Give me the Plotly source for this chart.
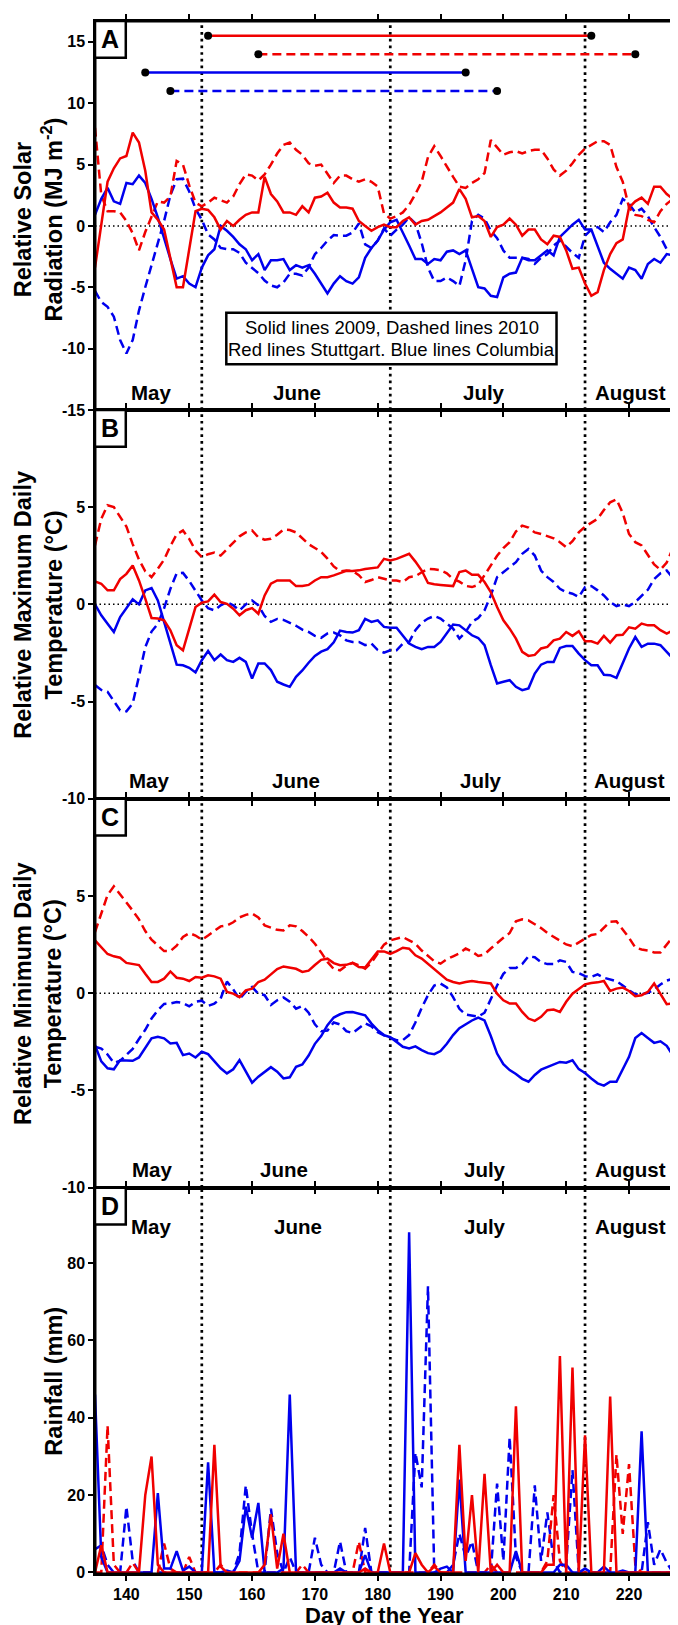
import plotly.graph_objects as go

# ---------------- DATA ----------------
days = list(range(135, 228))  # day of the year, 15 May .. 15 Aug

# Panel A: relative solar radiation (MJ m-2)
solar_stuttgart_2009 = [
    -3.4, 0.1, 3.6, 4.7, 5.5, 5.7, 7.6, 6.8, 4.5, 1.1,
    0.5, -0.3, -2.6, -5.0, -5.0, -1.9, 1.2, 1.4, 1.3, 0.7,
    -0.3, 0.4, 0.0, 0.5, 0.9, 1.1, 1.1, 4.0, 2.6, 2.0,
    1.1, 1.1, 0.9, 1.6, 1.1, 2.3, 2.4, 2.7, 1.9, 1.5,
    1.5, 1.4, 0.4, 0.0, -0.4, -0.1, 0.1, -0.1, -0.1, 0.4,
    0.7, 0.1, 0.4, 0.5, 0.8, 1.1, 1.5, 1.9, 3.0, 2.2,
    0.7, 0.8, 0.4, -0.9, -0.1, 0.1, 0.6, 0.1, -0.8, -0.3,
    -0.3, -1.1, -1.5, -0.8, -0.9, -2.0, -3.5, -3.4, -4.7, -5.7,
    -5.4, -3.6, -2.3, -1.4, -1.1, 1.5, 2.0, 2.3, 1.8, 3.2,
    3.2, 2.6, 2.2]
solar_stuttgart_2010 = [
    8.0, 2.5, 1.2, 1.2, 1.1, 0.4, -0.6, -2.0, -0.5, 0.8,
    2.0, 1.9, 2.4, 5.3, 5.0, 3.3, 1.9, 1.6, 1.9, 2.3,
    2.1, 1.9, 2.4, 3.4, 4.2, 4.1, 3.7, 4.2, 5.0, 5.9,
    6.6, 6.8, 6.2, 5.8, 5.1, 4.9, 5.0, 4.3, 3.5, 4.1,
    4.1, 3.8, 3.6, 3.8, 3.6, 3.2, 1.0, 0.6, 0.8, 1.1,
    1.7, 2.6, 3.6, 5.6, 6.5, 5.7, 4.8, 4.0, 3.2, 3.1,
    3.5, 3.8, 4.3, 7.0, 6.4, 5.8, 6.0, 6.1, 5.9, 6.1,
    6.2, 6.2, 5.5, 4.6, 4.1, 4.5, 5.1, 5.8, 6.3, 6.6,
    6.9, 6.9, 6.6, 4.8, 3.6, 1.5, 0.9, 0.8, 0.5, 0.3,
    1.2, 1.8, 2.2]
solar_columbia_2009 = [
    0.9, 2.2, 3.1, 2.0, 1.8, 3.5, 3.4, 4.1, 3.5, 2.2,
    0.7, -1.1, -2.7, -4.3, -4.1, -4.7, -5.0, -3.4, -2.4, -1.9,
    0.0, -0.4, -0.9, -1.5, -1.9, -2.8, -2.3, -3.6, -2.8, -2.8,
    -2.7, -3.6, -3.2, -3.4, -3.2, -3.9, -4.7, -5.5, -4.7, -4.1,
    -4.5, -4.7, -4.2, -2.6, -1.8, -1.2, -0.3, 0.3, 0.5, -0.5,
    -1.6, -2.7, -2.7, -3.1, -2.7, -2.8, -2.1, -2.0, -2.3, -2.0,
    -3.6, -5.0, -5.1, -5.7, -5.8, -4.2, -3.9, -3.8, -2.6, -2.8,
    -2.8, -2.4, -2.0, -2.4, -0.9, -0.4, 0.1, 0.5, -0.3, -0.3,
    -1.6, -3.0, -3.5, -3.9, -4.3, -3.4, -3.6, -4.3, -3.1, -2.7,
    -3.0, -2.3, -2.4]
solar_columbia_2010 = [
    -5.3, -6.2, -6.6, -7.4, -9.3, -10.4, -9.3, -6.9, -5.0, -3.2,
    -1.4, 0.4, 2.5, 3.8, 3.85, 2.8, 1.4, 0.5, -0.7, -1.1,
    -1.8, -1.9, -1.9, -2.2, -3.0, -3.4, -3.85, -4.45, -4.85, -5.0,
    -4.6, -3.9, -3.9, -4.05, -3.4, -2.3, -1.8, -1.2, -0.75, -0.8,
    -0.8, -0.55, 0.2, -1.5, -1.8, -1.2, -0.2, -0.8, -0.3, 0.1,
    0.7, 0.2, -1.4, -3.4, -4.5, -4.5, -4.2, -4.5, -4.9, -2.8,
    0.4, 0.9, 0.6, -0.4, -1.0, -2.0, -2.6, -2.6, -2.6, -2.7,
    -3.1, -2.6, -2.3, -1.6, -1.2, -1.7, -2.2, -2.6, -0.8, -0.3,
    -0.1, -0.5, 0.3, 0.9, 2.2, 1.8, 1.1, 1.4, 0.8, -0.1,
    -0.9, -1.9, -2.2]

# Panel B: relative maximum daily temperature (deg C)
tmax_stuttgart_2009 = [
    1.18, 1.06, 0.72, 0.72, 1.3, 1.57, 2.0, 1.23, 0.3, -0.7,
    -0.73, -0.82, -1.33, -2.1, -2.36, -1.25, -0.14, 0.09, 0.15, 0.5,
    0.12, 0.03, -0.22, -0.56, -0.3, -0.19, -0.48, 0.46, 1.06, 1.23,
    1.23, 1.23, 0.94, 0.94, 1.0, 1.23, 1.4, 1.4, 1.49, 1.6,
    1.72, 1.72, 1.75, 1.82, 1.86, 1.9, 2.34, 2.26, 2.34, 2.48,
    2.6, 2.2, 1.74, 1.1, 1.03, 1.0, 0.97, 0.94, 1.66, 1.74,
    1.52, 1.52, 1.15, 0.63, -0.14, -0.82, -1.25, -1.76, -2.44, -2.65,
    -2.6, -2.27, -2.19, -1.85, -1.76, -1.42, -1.62, -1.38, -1.9, -1.9,
    -2.02, -1.62, -1.97, -1.59, -1.56, -1.18, -1.25, -0.99, -1.08, -1.08,
    -1.33, -1.5, -1.33]
tmax_stuttgart_2010 = [
    3.03, 4.4, 5.1, 5.0, 4.5, 4.0, 3.1, 2.3, 1.7, 1.4,
    1.83, 2.3, 3.0, 3.6, 3.8, 3.37, 2.77, 2.43, 2.58, 2.66,
    2.51, 2.85, 3.2, 3.5, 3.7, 3.8, 3.45, 3.33, 3.37, 3.58,
    3.85, 3.82, 3.7, 3.4, 3.1, 2.9, 2.7, 2.35, 1.95, 1.7,
    1.74, 1.72, 1.5, 1.15, 1.25, 1.4, 1.3, 1.23, 1.23, 1.15,
    1.4, 1.45, 1.65, 1.82, 1.8, 1.75, 1.6, 1.3, 1.17, 0.95,
    0.89, 1.0, 1.5, 2.0, 2.5, 2.9, 3.2, 3.75, 4.05, 3.95,
    3.7, 3.62, 3.5, 3.4, 3.2, 2.94, 3.25, 3.7, 4.0, 4.2,
    4.4, 4.85, 5.25, 5.4, 4.7, 3.62, 3.2, 3.03, 2.55, 2.05,
    1.78, 2.15, 2.9]
tmax_columbia_2009 = [
    0.0, -0.56, -1.0, -1.42, -0.65, -0.22, 0.26, 0.0, 0.72, 0.84,
    0.2, -0.9, -2.0, -3.1, -3.13, -3.26, -3.5, -2.87, -2.4, -2.87,
    -2.58, -2.87, -2.96, -2.75, -2.96, -3.81, -3.04, -3.04, -3.38, -3.98,
    -4.12, -4.24, -3.73, -3.4, -3.0, -2.65, -2.43, -2.3, -1.95, -1.35,
    -1.42, -1.45, -1.33, -0.75, -0.9, -0.82, -1.16, -1.2, -1.2, -1.59,
    -2.02, -2.19, -2.31, -2.19, -2.19, -1.93, -1.5, -1.04, -1.08, -1.33,
    -1.59, -1.73, -2.1, -3.13, -4.07, -3.98, -3.9, -4.24, -4.41, -4.32,
    -3.56, -3.1, -2.96, -2.96, -2.24, -2.14, -2.14, -2.53, -2.87, -3.13,
    -3.13, -3.62, -3.64, -3.78, -3.04, -2.27, -1.68, -2.19, -2.02, -2.02,
    -2.1, -2.44, -2.79]
tmax_columbia_2010 = [
    -4.15, -4.4, -4.5, -4.95, -5.45, -5.5, -5.1, -3.7, -2.2, -1.4,
    -1.0, -0.2, 0.8, 1.6, 1.62, 1.2, 0.7, 0.2, -0.2, -0.31,
    -0.05, 0.12, -0.05, -0.31, 0.0, 0.2, -0.05, -0.6, -0.9, -0.75,
    -0.8, -0.95, -1.1, -1.3, -1.42, -1.62, -1.72, -1.5, -1.45, -1.59,
    -1.85, -1.93, -1.93, -2.1, -2.02, -2.35, -2.48, -2.36, -2.36, -2.02,
    -1.93, -1.33, -0.94, -0.73, -0.6, -0.73, -0.99, -1.25, -1.76, -1.42,
    -0.9, -0.7, -0.31, 0.46, 1.4, 1.66, 1.91, 2.17, 2.6, 2.85,
    2.51, 1.74, 1.4, 1.15, 0.8, 0.63, 0.55, 0.38, 0.89, 0.94,
    0.72, 0.46, 0.12, -0.09, 0.0, -0.09, 0.12, 0.46, 0.75, 1.3,
    1.6, 1.74, 1.35]

# Panel C: relative minimum daily temperature (deg C)
tmin_stuttgart_2009 = [
    2.72, 2.36, 2.02, 1.9, 1.83, 1.56, 1.52, 1.45, 1.0, 0.58,
    0.58, 0.75, 1.12, 0.8, 0.75, 0.63, 0.84, 0.8, 0.92, 0.87,
    0.75, 0.07, -0.02, -0.2, 0.15, 0.24, 0.58, 0.7, 0.97, 1.24,
    1.38, 1.32, 1.26, 1.1, 1.16, 1.45, 1.72, 1.78, 1.55, 1.44,
    1.46, 1.56, 1.35, 1.32, 1.75, 2.15, 2.15, 2.03, 2.17, 2.34,
    2.29, 1.95, 1.78, 1.52, 1.26, 1.0, 0.7, 0.58, 0.5, 0.58,
    0.63, 0.58, 0.53, 0.5, -0.02, -0.36, -0.53, -0.53, -0.96, -1.3,
    -1.42, -1.21, -0.87, -0.84, -0.96, -0.44, -0.02, 0.24, 0.46, 0.53,
    0.56, 0.63, 0.12, 0.24, 0.29, 0.12, -0.15, -0.1, 0.07, 0.5,
    -0.02, -0.56, -0.53]
tmin_stuttgart_2010 = [
    3.15, 4.1, 5.05, 5.5, 5.1, 4.65, 4.25, 3.8, 3.2, 2.75,
    2.46, 2.17, 2.17, 2.45, 2.89, 3.09, 2.97, 2.75, 2.97, 3.2,
    3.44, 3.49, 3.65, 3.9, 4.03, 4.1, 3.9, 3.49, 3.37, 3.26,
    3.23, 3.49, 3.44, 3.2, 2.9, 2.55, 2.1, 1.61, 1.25, 1.18,
    1.42, 1.56, 1.44, 1.26, 1.58, 2.05, 2.5, 2.72, 2.8, 2.89,
    2.72, 2.55, 2.2, 1.9, 1.65, 1.52, 1.75, 1.9, 2.05, 2.3,
    2.15, 1.92, 2.0, 2.3, 2.6, 2.85, 3.1, 3.7, 3.8, 3.75,
    3.55, 3.35, 3.1, 2.9, 2.68, 2.51, 2.42, 2.62, 2.82, 3.0,
    3.05, 3.35, 3.68, 3.7, 3.3, 2.85, 2.35, 2.25, 2.2, 2.1,
    2.1, 2.5, 2.9]
tmin_columbia_2009 = [
    -2.67, -3.5, -3.86, -3.91, -3.44, -3.47, -3.47, -3.3, -2.84, -2.32,
    -2.24, -2.32, -2.58, -2.55, -3.18, -3.1, -3.3, -3.01, -3.13, -3.52,
    -3.86, -4.12, -3.91, -3.44, -4.03, -4.6, -4.29, -4.03, -3.8, -4.03,
    -4.38, -4.32, -3.78, -3.66, -3.2, -2.6, -2.2, -1.64, -1.25, -1.08,
    -0.97, -0.96, -1.04, -1.13, -1.56, -1.9, -2.15, -2.26, -2.5, -2.75,
    -2.84, -2.73, -2.92, -3.08, -3.13, -2.97, -2.6, -2.15, -1.8, -1.6,
    -1.4, -1.25, -1.4, -2.2, -3.1, -3.65, -3.95, -4.15, -4.4, -4.55,
    -4.2, -3.93, -3.81, -3.66, -3.53, -3.57, -3.45, -3.9, -4.1, -4.38,
    -4.63, -4.75, -4.55, -4.55, -3.95, -3.27, -2.3, -2.05, -2.3, -2.55,
    -2.47, -2.7, -3.2]
tmin_columbia_2010 = [
    -2.75, -2.84, -3.15, -3.58, -3.47, -3.15, -2.86, -2.35, -1.88, -1.3,
    -0.87, -0.55, -0.53, -0.45, -0.5, -0.67, -0.44, -0.38, -0.65, -0.53,
    -0.27, 0.6, 0.2, -0.3, 0.07, 0.32, -0.02, -0.1, -0.6, -0.36,
    -0.22, -0.44, -0.79, -0.65, -1.0, -1.6, -1.95, -1.92, -1.5, -1.6,
    -1.95, -2.05, -1.8, -1.55, -1.7, -2.0, -2.17, -2.3, -2.41, -2.41,
    -2.15, -1.5, -0.75, -0.1, 0.4, 0.5, 0.3, -0.2, -0.8, -1.1,
    -1.15, -1.2, -1.0, -0.3, 0.4, 1.0, 1.3, 1.3, 1.5, 1.9,
    1.85, 1.6, 1.5, 1.5, 1.69, 1.61, 1.1, 1.04, 0.88, 0.84,
    0.97, 0.8, 0.7, 0.62, 0.4, 0.15, -0.05, -0.05, 0.02, 0.2,
    0.45, 0.65, 0.75]

# Panel D: rainfall (mm)
rain_stuttgart_2009 = [
    0, 7, 0, 0, 0, 0, 0, 0, 20, 30,
    2, 0, 0, 0, 0, 0, 0, 0, 0, 33,
    1.5, 0, 0, 0, 0, 0, 0, 2, 15, 1,
    10, 0, 0, 0, 0, 0, 0, 0, 0, 0,
    0, 0, 0, 1, 0, 0, 7.5, 0, 0, 0,
    0, 5, 2, 0, 1.5, 0, 0, 0, 33, 3,
    20, 0, 25.5, 0, 2, 0, 0, 43, 0, 0,
    0, 0, 2, 2, 56, 0, 53, 0, 35.5, 0,
    0, 0, 45.5, 0, 0, 0, 0, 0, 0, 0,
    0, 0, 0]
rain_stuttgart_2010 = [
    0, 0, 38, 2, 0, 0, 2.5, 0, 0, 0,
    0, 7.5, 1, 0, 0, 4, 0, 0, 0, 0,
    2, 0, 0, 0, 0, 0, 0, 0, 0, 0,
    0, 0, 0, 2, 0, 0, 0, 0, 0, 0,
    0, 0, 8, 0, 0, 0, 0, 0, 0, 0,
    0, 0, 0, 0, 2, 0, 0, 0, 0, 0,
    0, 0, 0, 2, 0, 0, 0, 0, 0, 0,
    0, 0, 3, 20, 3, 0, 0, 0, 0, 0,
    0, 0, 0, 30.5, 10, 28, 2, 0, 0, 0,
    0, 0, 0]
rain_columbia_2009 = [
    46, 4, 0, 0, 0, 0, 0, 0, 0, 0,
    20.5, 1, 1, 5.5, 0.5, 1.5, 0, 0, 28.5, 0,
    0, 0.5, 0, 3, 17, 9, 18, 0, 0, 0,
    1, 46, 0, 0, 0, 0, 0, 0, 0, 1,
    0, 0, 0, 4.5, 0, 0, 0, 0, 0, 0,
    88, 0, 0, 0, 0, 1, 1.5, 0, 24, 0,
    0, 0, 0, 0, 0, 0, 0, 5.5, 0, 0,
    0, 0, 0, 0, 2, 2, 0, 0, 1, 0,
    0, 1.5, 0, 0, 0.5, 0, 0, 36.5, 0, 0,
    0, 0, 0]
rain_columbia_2010 = [
    6, 7, 2, 0, 0, 17, 3, 0, 0, 0,
    0, 0, 0, 0, 0, 0, 0, 0, 0, 0,
    0, 0, 0, 5, 22.5, 10, 0, 0, 16.5, 5,
    0, 4, 0, 0, 0, 9, 2, 0, 0, 8,
    0, 0, 0, 11.5, 0, 0, 0, 0, 0, 0,
    0, 31, 22, 74, 0, 0, 0, 2, 10, 4,
    8, 0, 0, 0, 23, 3, 35, 4, 0, 0,
    22.5, 3, 15.5, 3, 0, 2, 26.5, 0, 0, 0,
    0, 0, 0, 0, 0, 0, 0, 0, 13, 2,
    6, 2.5, 0]

# Growing-period bars at the top of panel A
period_start = [153, 161, 143, 147]
period_end = [214, 221, 194, 199]
period_level = [15.5, 14.0, 12.5, 11.0]

month_names = ["May", "June", "July", "August"]
month_boundaries = [152, 182, 213]
x_ticks = [140, 150, 160, 170, 180, 190, 200, 210, 220]
y_ticks_a = [-15, -10, -5, 0, 5, 10, 15]
y_ticks_bc = [-10, -5, 0, 5]
y_ticks_d = [0, 20, 40, 60, 80]

for s in [solar_stuttgart_2009, solar_stuttgart_2010, solar_columbia_2009, solar_columbia_2010,
          tmax_stuttgart_2009, tmax_stuttgart_2010, tmax_columbia_2009, tmax_columbia_2010,
          tmin_stuttgart_2009, tmin_stuttgart_2010, tmin_columbia_2009, tmin_columbia_2010,
          rain_stuttgart_2009, rain_stuttgart_2010, rain_columbia_2009, rain_columbia_2010]:
    assert len(s) == len(days), len(s)

# ---------------- STYLE ----------------
RED = "rgb(240,0,0)"
BLUE = "rgb(0,0,238)"
DASH = "9px,5px"
FONT = "Liberation Sans, Arial, Helvetica, sans-serif"
LW = 2.5

fig = go.Figure()

panels = [
    [solar_columbia_2010, solar_stuttgart_2010, solar_columbia_2009, solar_stuttgart_2009],
    [tmax_columbia_2010, tmax_stuttgart_2010, tmax_columbia_2009, tmax_stuttgart_2009],
    [tmin_columbia_2010, tmin_stuttgart_2010, tmin_columbia_2009, tmin_stuttgart_2009],
    [rain_columbia_2010, rain_stuttgart_2010, rain_columbia_2009, rain_stuttgart_2009],
]
styles = [(BLUE, DASH), (RED, DASH), (BLUE, "solid"), (RED, "solid")]

def sfx(i):
    return "" if i == 0 else str(i + 1)

for i, series in enumerate(panels):
    for vals, (col, dash) in zip(series, styles):
        fig.add_trace(go.Scatter(
            x=days, y=vals, mode="lines",
            line=dict(color=col, width=LW, dash=dash),
            xaxis="x" + sfx(i), yaxis="y" + sfx(i),
            showlegend=False, hoverinfo="skip"))

period_styles = [(RED, "solid"), (RED, DASH), (BLUE, "solid"), (BLUE, DASH)]
for s, e, lev, (col, dash) in zip(period_start, period_end, period_level, period_styles):
    fig.add_trace(go.Scatter(
        x=[s, e], y=[lev, lev], mode="lines+markers",
        line=dict(color=col, width=LW, dash=dash),
        marker=dict(color="black", size=8),
        xaxis="x", yaxis="y", showlegend=False, hoverinfo="skip"))

# ---------------- LAYOUT ----------------
W, H = 678, 1625
ML, MR, MT, MB = 87, 9, 6, 59
PW = W - ML - MR
PH = H - MT - MB

y_domains = [[0.74955, 1.0], [0.49917, 0.74955], [0.24872, 0.49917], [0.0, 0.24872]]
y_ranges = [[-15, 16.7], [-10, 10], [-10, 10], [-0.4, 99.5]]
y_ticks = [y_ticks_a, y_ticks_bc, y_ticks_bc, y_ticks_d]

tickfont = dict(family=FONT, size=16, color="black", weight="bold")
axis_common = dict(showline=True, linewidth=1.5, linecolor="black", mirror="ticks",
                   ticks="outside", ticklen=5, tickwidth=2, tickcolor="black",
                   showgrid=False, zeroline=False, tickfont=tickfont)

layout_axes = {}
for i in range(4):
    layout_axes["xaxis" + sfx(i)] = dict(axis_common, domain=[0, 1], range=[135, 227],
                                        tickvals=x_ticks, ticktext=[str(t) for t in x_ticks],
                                        anchor="y" + sfx(i), showticklabels=(i == 3))
    layout_axes["yaxis" + sfx(i)] = dict(axis_common, domain=y_domains[i], range=y_ranges[i],
                                        tickvals=y_ticks[i], ticktext=[str(t) for t in y_ticks[i]],
                                        anchor="x" + sfx(i))

shapes = []
annotations = []

# outer frame (axis lines are drawn outside; this thickens outer edges to match panel joins)
shapes.append(dict(type="rect", xref="paper", yref="paper", x0=0, x1=1, y0=0, y1=1,
                   line=dict(color="black", width=3), layer="above"))

for i in range(4):
    xs, ys = "x" + sfx(i), "y" + sfx(i)
    for d in month_boundaries:
        shapes.append(dict(type="line", xref=xs, yref=ys + " domain", x0=d, x1=d, y0=0, y1=1,
                           line=dict(color="black", width=2.7, dash="2.7px,4px"), layer="below"))
    if i < 3:
        shapes.append(dict(type="line", xref=xs + " domain", yref=ys, x0=0, x1=1, y0=0, y1=0,
                           line=dict(color="black", width=1.5, dash="1.5px,3px"), layer="below"))
    # panel letter box
    dom_h = (y_domains[i][1] - y_domains[i][0]) * PH
    bh = 37 / dom_h
    bw = 31 / PW
    shapes.append(dict(type="rect", xref=xs + " domain", yref=ys + " domain",
                       x0=0, x1=bw, y0=1 - bh, y1=1,
                       line=dict(color="black", width=2.5), fillcolor="white", layer="above"))
    annotations.append(dict(text="ABCD"[i], xref=xs + " domain", yref=ys + " domain",
                            x=bw / 2, y=1 - bh / 2, xanchor="center", yanchor="middle",
                            showarrow=False,
                            font=dict(family=FONT, size=25, color="black", weight="bold")))

# month labels
month_x = [[143.9, 167.1, 196.9, 220.2], [143.6, 167.0, 196.4, 220.0],
           [144.0, 165.1, 197.0, 220.2], [143.9, 167.3, 197.0, 220.3]]
month_y = [-13.57, -9.06, -9.06, 89.6]
for i in range(4):
    for name, mx in zip(month_names, month_x[i]):
        annotations.append(dict(text=name, xref="x" + sfx(i), yref="y" + sfx(i),
                                x=mx, y=month_y[i], xanchor="center", yanchor="middle",
                                showarrow=False,
                                font=dict(family=FONT, size=20.5, color="black", weight="bold")))

# legend box in panel A
shapes.append(dict(type="rect", xref="x", yref="y", x0=155.9, x1=208.46, y0=-11.27, y1=-7.08,
                   line=dict(color="black", width=2.5), fillcolor="white", layer="above"))
for txt, yy in [("Solid lines 2009, Dashed lines 2010", -8.3),
                ("Red lines Stuttgart. Blue lines Columbia", -10.04)]:
    annotations.append(dict(text=txt, xref="x", yref="y", x=182.2, y=yy,
                            xanchor="center", yanchor="middle", showarrow=False,
                            font=dict(family=FONT, size=18.5, color="black")))

# axis titles
def px_to_paper_x(px):
    return (px - ML) / PW

def px_to_paper_y(py):
    return (H - MB - py) / PH

ytitles = [("Relative Solar<br>Radiation (MJ m<sup>-2</sup>)", 30, 205),
           ("Relative Maximum Daily<br>Temperature (°C)", 30, 592),
           ("Relative Minimum Daily<br>Temperature (°C)", 30, 983),
           ("Rainfall (mm)", 45.5, 1372)]
for txt, px, py in ytitles:
    annotations.append(dict(text=txt, xref="paper", yref="paper",
                            x=px_to_paper_x(px), y=px_to_paper_y(py),
                            xanchor="center", yanchor="middle", textangle=-90, showarrow=False,
                            font=dict(family=FONT, size=23.5, color="black", weight="bold")))

annotations.append(dict(text="Day of the Year", xref="paper", yref="paper",
                        x=0.5, y=px_to_paper_y(1608), xanchor="center", yanchor="middle",
                        showarrow=False,
                        font=dict(family=FONT, size=22, color="black", weight="bold")))

fig.update_layout(
    width=W, height=H,
    margin=dict(l=ML, r=MR, t=MT, b=MB, pad=0),
    paper_bgcolor="white", plot_bgcolor="white",
    showlegend=False,
    shapes=shapes, annotations=annotations,
    **layout_axes)

fig.write_html("out.html")
